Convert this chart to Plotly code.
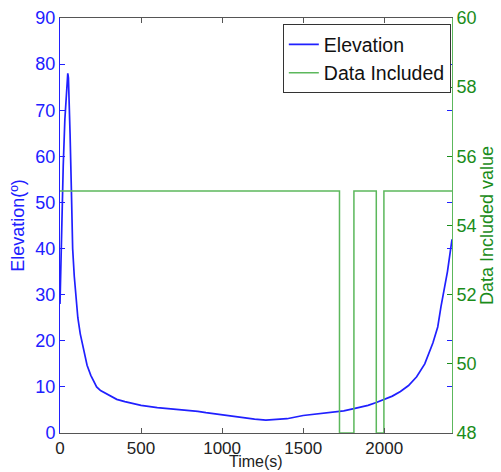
import plotly.graph_objects as go

# Elevation series (time in s, elevation in degrees)
time_s = [0, 10, 20, 30, 40, 48, 52, 56, 62, 70, 78, 88, 97, 110, 125, 134, 150, 167,
          190, 210, 226, 250, 300, 350, 400, 500, 600, 700, 800, 850, 900, 1000, 1100,
          1200, 1270, 1350, 1400, 1500, 1600, 1700, 1750, 1813, 1900, 1951, 2000, 2050,
          2100, 2150, 2200, 2250, 2300, 2330, 2350, 2370, 2390, 2400, 2410, 2418]
elevation = [28, 45, 58, 68, 75, 78, 77, 73, 65, 53, 40, 34, 30, 25, 21.5, 20, 17, 14.7,
             12.5, 11, 10, 9.2, 8.3, 7.3, 6.8, 6.0, 5.5, 5.2, 4.9, 4.7, 4.4, 3.9, 3.4,
             3.0, 2.8, 2.9, 3.1, 3.8, 4.2, 4.6, 4.8, 5.3, 6.0, 6.6, 7.3, 8.0,
             9.0, 10.3, 12.2, 15.0, 19.5, 23, 27.4, 31, 35, 37.5, 40, 42]

# Data Included step series
included_time = [0, 1724, 1813, 1951, 1998, 2418]
included_value = [55, 48, 55, 48, 55, 55]

left_ticks = [0, 10, 20, 30, 40, 50, 60, 70, 80, 90]
right_ticks = [48, 50, 52, 54, 56, 58, 60]
x_ticks = [0, 500, 1000, 1500, 2000]

BLUE = "#2020ff"
GREEN = "#1a8c1a"
FONT = "Liberation Sans, Arial, sans-serif"

fig = go.Figure()
fig.add_trace(go.Scatter(x=time_s, y=elevation, mode="lines", name="Elevation",
                         line=dict(color=BLUE, width=1.7), yaxis="y"))
fig.add_trace(go.Scatter(x=included_time, y=included_value, mode="lines",
                         name="Data Included", line=dict(color="#5cb85c", width=1.5, shape="hv"),
                         yaxis="y2"))

fig.update_layout(
    width=501, height=472,
    margin=dict(l=60, r=49, t=18, b=39, autoexpand=False),
    paper_bgcolor="white", plot_bgcolor="white",
    font=dict(family=FONT, size=18, color="#222"),
    showlegend=True,
    legend=dict(x=0.997, y=0.985, xanchor="right", yanchor="top",
                bgcolor="white", bordercolor="#333", borderwidth=1,
                font=dict(size=19.5, color="#111"),
                tracegroupgap=0, itemwidth=30),
    xaxis=dict(range=[0, 2418], tickvals=x_ticks, ticks="inside", ticklen=5,
               tickcolor="#555", showline=True, linecolor="#555", linewidth=1,
               mirror="ticks", showgrid=False, zeroline=False, automargin=False,
               tickfont=dict(size=17, color="#222")),
    yaxis=dict(range=[0, 90], tickvals=left_ticks, ticks="inside", ticklen=5,
               tickcolor=BLUE, showline=True, linecolor=BLUE, linewidth=1,
               mirror="ticks", showgrid=False, zeroline=False, automargin=False,
               tickfont=dict(size=18, color=BLUE),
               title=dict(text="Elevation(º)", font=dict(size=18, color=BLUE), standoff=6)),
    yaxis2=dict(range=[48, 60], tickvals=right_ticks, ticks="inside", ticklen=5,
                tickcolor=GREEN, showline=True, linecolor="#5cb85c", linewidth=1,
                overlaying="y", side="right", showgrid=False, zeroline=False, automargin=False,
                tickfont=dict(size=18, color=GREEN),
                title=dict(text="Data Included value", font=dict(size=18, color=GREEN), standoff=4)),
    annotations=[dict(text="Time(s)", xref="paper", yref="paper", x=0.5, y=-0.094,
                      xanchor="center", yanchor="bottom", showarrow=False,
                      font=dict(size=16, color="#222"))],
)

fig.write_html("out.html")
